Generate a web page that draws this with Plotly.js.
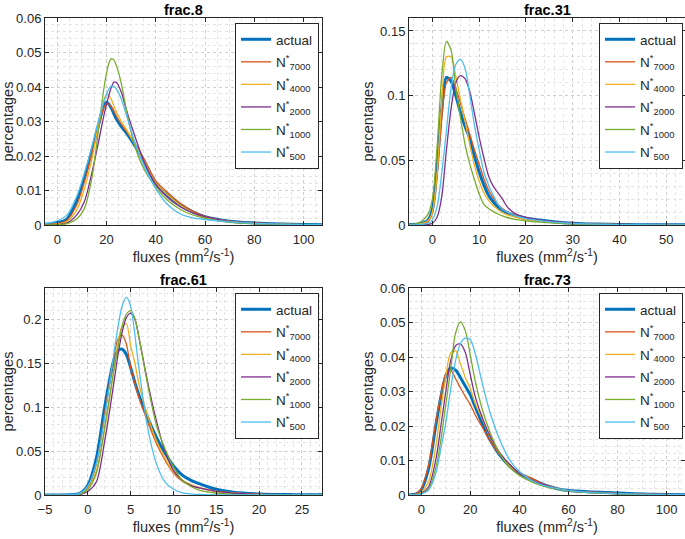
<!DOCTYPE html>
<html>
<head>
<meta charset="utf-8">
<script src="https://cdn.plot.ly/plotly-3.0.1.min.js"></script>
<style>html,body{margin:0;padding:0;background:#fff;}#chart{width:685px;height:539px;}</style>
</head>
<body>
<div id="chart"></div>
<script>
// ---------- data ----------
const seriesNames = ['actual', 'N<sup>*</sup><sub>7000</sub>', 'N<sup>*</sup><sub>4000</sub>', 'N<sup>*</sup><sub>2000</sub>', 'N<sup>*</sup><sub>1000</sub>', 'N<sup>*</sup><sub>500</sub>'];
const panelTitles = ['frac.8', 'frac.31', 'frac.61', 'frac.73'];

// frac.8
const x8 = [-5,0,4,8,11,14,17,19,20,21,22,23,24,26,28,31,35,40,45,50,55,60,70,80,95,108];
const f8_actual = [0.0002,0.0006,0.0018,0.0072,0.0139,0.0215,0.0297,0.0348,0.0356,0.0350,0.0338,0.0322,0.0307,0.0285,0.0267,0.0236,0.0188,0.0120,0.0085,0.0058,0.0038,0.0024,0.0011,0.0006,0.0002,0.0001];
const f8_n7000  = [0.0001,0.0004,0.0014,0.0060,0.0125,0.0205,0.0292,0.0342,0.0352,0.0350,0.0342,0.0330,0.0316,0.0292,0.0272,0.0242,0.0195,0.0128,0.0093,0.0063,0.0040,0.0025,0.0011,0.0006,0.0002,0.0001];
const f8_n4000  = [0.0001,0.0003,0.0010,0.0045,0.0105,0.0190,0.0300,0.0362,0.0378,0.0375,0.0362,0.0345,0.0328,0.0300,0.0278,0.0240,0.0188,0.0122,0.0086,0.0057,0.0036,0.0022,0.0010,0.0005,0.0002,0.0001];
const f8_n2000  = [0.0000,0.0001,0.0006,0.0030,0.0068,0.0150,0.0250,0.0320,0.0350,0.0378,0.0400,0.0414,0.0413,0.0385,0.0335,0.0268,0.0188,0.0118,0.0078,0.0052,0.0035,0.0024,0.0010,0.0005,0.0002,0.0001];
const f8_n1000  = [0.0000,0.0001,0.0004,0.0018,0.0048,0.0135,0.0290,0.0400,0.0440,0.0470,0.0482,0.0478,0.0462,0.0410,0.0335,0.0240,0.0165,0.0110,0.0070,0.0045,0.0029,0.0019,0.0008,0.0004,0.0002,0.0001];
const f8_n500   = [0.0004,0.0012,0.0030,0.0085,0.0150,0.0225,0.0310,0.0360,0.0380,0.0395,0.0403,0.0402,0.0394,0.0365,0.0320,0.0250,0.0175,0.0105,0.0058,0.0032,0.0021,0.0016,0.0009,0.0005,0.0002,0.0001];

// frac.31
const x31 = [-5,-3,-1,0,1,2,3,4,5,6,7,8,9,10,11,12,13,14,15,16,18,20,23,26,30,35,40,47,55];
const f31_actual = [0.0002,0.0008,0.0035,0.012,0.045,0.090,0.114,0.111,0.100,0.087,0.076,0.067,0.053,0.041,0.031,0.023,0.018,0.014,0.0115,0.0095,0.0072,0.0052,0.0038,0.0026,0.0014,0.0007,0.0004,0.0002,0.0001];
const f31_n7000  = [0.0001,0.0005,0.0025,0.009,0.038,0.082,0.110,0.114,0.106,0.094,0.082,0.070,0.058,0.047,0.036,0.027,0.021,0.016,0.0125,0.010,0.0072,0.0052,0.0036,0.0024,0.0013,0.0007,0.0004,0.0002,0.0001];
const f31_n4000  = [0.0001,0.0006,0.003,0.010,0.040,0.095,0.130,0.130,0.115,0.097,0.080,0.062,0.046,0.034,0.025,0.019,0.015,0.012,0.0095,0.0078,0.0058,0.0042,0.0028,0.0018,0.0010,0.0005,0.0003,0.0001,0.0001];
const f31_n2000  = [0.0000,0.0001,0.0004,0.0013,0.006,0.022,0.058,0.090,0.110,0.1155,0.113,0.103,0.086,0.068,0.052,0.038,0.030,0.025,0.020,0.014,0.0082,0.0058,0.0038,0.0025,0.0014,0.0007,0.0004,0.0002,0.0001];
const f31_n1000  = [0.0003,0.0015,0.008,0.020,0.060,0.115,0.142,0.135,0.106,0.083,0.062,0.047,0.035,0.024,0.016,0.0128,0.0105,0.0085,0.007,0.0058,0.0042,0.0032,0.0022,0.0015,0.0009,0.0005,0.0003,0.0001,0.0001];
const f31_n500   = [0.0001,0.0003,0.0012,0.004,0.014,0.040,0.073,0.106,0.124,0.128,0.121,0.100,0.077,0.058,0.041,0.031,0.023,0.016,0.012,0.010,0.0068,0.005,0.0033,0.0022,0.0012,0.0006,0.0003,0.0001,0.0001];

// frac.61
const x61 = [-5,-2,-1,0,1,2,3,3.5,4,4.5,5,5.5,6,7,8,9,10,11,12,13,15,17,20,24,27.4];
const f61_actual = [0,0.0003,0.0015,0.011,0.042,0.102,0.152,0.164,0.166,0.160,0.145,0.128,0.113,0.088,0.066,0.048,0.033,0.023,0.017,0.013,0.0065,0.0032,0.0012,0.0004,0.0002];
const f61_n7000  = [0,0.0002,0.001,0.009,0.035,0.095,0.155,0.177,0.182,0.172,0.145,0.127,0.110,0.083,0.059,0.040,0.025,0.016,0.011,0.0085,0.0045,0.0025,0.001,0.0003,0.0001];
const f61_n4000  = [0,0.0001,0.0008,0.007,0.028,0.076,0.140,0.172,0.192,0.195,0.170,0.150,0.125,0.090,0.062,0.042,0.026,0.017,0.012,0.008,0.004,0.002,0.0008,0.0002,0.0001];
const f61_n2000  = [0,0.0001,0.0005,0.004,0.015,0.063,0.125,0.158,0.185,0.202,0.207,0.200,0.178,0.128,0.085,0.050,0.028,0.017,0.011,0.008,0.0042,0.002,0.0008,0.0002,0.0001];
const f61_n1000  = [0,0.0001,0.0008,0.006,0.025,0.079,0.140,0.167,0.192,0.206,0.210,0.201,0.178,0.125,0.080,0.053,0.032,0.017,0.010,0.0055,0.002,0.0008,0.0003,0.0001,0];
const f61_n500   = [0,0.0003,0.0015,0.010,0.036,0.090,0.158,0.190,0.215,0.225,0.215,0.182,0.142,0.076,0.036,0.015,0.0065,0.0028,0.0012,0.0006,0.0002,0.0001,0,0,0];

// frac.73
const x73 = [-5,-2,0,3,6,8,10,12,14,16,18,20,22,25,28,32,36,40,45,50,55,60,70,80,95,108];
const f73_actual = [0,0.0003,0.0015,0.0077,0.0205,0.0285,0.0345,0.0368,0.0362,0.0340,0.0315,0.0290,0.0255,0.0205,0.0160,0.0116,0.0084,0.0063,0.0045,0.0030,0.0019,0.0013,0.0009,0.0006,0.0002,0.0001];
const f73_n7000  = [0,0.0004,0.0019,0.0087,0.0215,0.0290,0.0352,0.0362,0.0337,0.0310,0.0285,0.0262,0.0232,0.0195,0.0157,0.0117,0.0085,0.0063,0.0049,0.0031,0.0020,0.0013,0.0008,0.0005,0.0002,0.0001];
const f73_n4000  = [0,0.0001,0.0008,0.0039,0.0145,0.0250,0.0345,0.0412,0.0418,0.0380,0.0340,0.0308,0.0265,0.0218,0.0168,0.0122,0.0085,0.0064,0.0045,0.0030,0.0019,0.0012,0.0007,0.0004,0.0002,0.0001];
const f73_n2000  = [0,0.0001,0.0005,0.0024,0.0105,0.0200,0.0300,0.0390,0.0433,0.0438,0.0412,0.0348,0.0285,0.0222,0.0172,0.0122,0.0089,0.0063,0.0044,0.0030,0.0019,0.0012,0.0007,0.0004,0.0002,0.0001];
const f73_n1000  = [0,0.0001,0.0003,0.0017,0.0080,0.0160,0.0262,0.0365,0.0470,0.0502,0.0475,0.0405,0.0330,0.0245,0.0182,0.0120,0.0080,0.0057,0.0038,0.0025,0.0017,0.0011,0.0006,0.0003,0.0001,0.0001];
const f73_n500   = [0,0.0001,0.0003,0.0014,0.0065,0.0135,0.0210,0.0308,0.0390,0.0440,0.0455,0.0450,0.0410,0.0320,0.0240,0.0160,0.0102,0.0068,0.0042,0.0027,0.0019,0.0013,0.0007,0.0004,0.0002,0.0001];

// ---------- styling ----------
const colors = ['#0072BD', '#D95319', '#EDB120', '#7E2F8E', '#77AC30', '#4DBEEE'];
const widths = [3, 1.3, 1.3, 1.3, 1.3, 1.3];
const FONT = 'Liberation Sans, Arial, Helvetica, sans-serif';
const TXT = '#262626';

const panels = [
  {x: x8,  ys: [f8_actual, f8_n7000, f8_n4000, f8_n2000, f8_n1000, f8_n500]},
  {x: x31, ys: [f31_actual, f31_n7000, f31_n4000, f31_n2000, f31_n1000, f31_n500]},
  {x: x61, ys: [f61_actual, f61_n7000, f61_n4000, f61_n2000, f61_n1000, f61_n500]},
  {x: x73, ys: [f73_actual, f73_n7000, f73_n4000, f73_n2000, f73_n1000, f73_n500]}
];

const W = 685, H = 539;
const box = [ // pixel boxes [left, right, top, bottom]
  [45, 322, 18, 225],
  [409, 685, 18, 225],
  [45, 322, 288, 495],
  [409, 685, 288, 495]
];
const xr = [[-5, 107.5], [-5, 54], [-5, 27.35], [-5, 107.5]];
const yr = [[0, 0.06], [0, 0.16], [0, 0.2357], [0, 0.06]];
const xd = [[20, 5], [10, 2], [5, 1], [20, 5]];
const yd = [[0.01, 0.002], [0.05, 0.01], [0.05, 0.01], [0.01, 0.002]];
const legRight = [319, 683, 319, 683];
const legTop = [23, 23, 293, 293];

const traces = [];
const layout = {
  width: W, height: H,
  margin: {l: 0, r: 0, t: 0, b: 0},
  paper_bgcolor: '#ffffff', plot_bgcolor: '#ffffff',
  font: {family: FONT, color: TXT, size: 13},
  annotations: []
};

panels.forEach((p, i) => {
  const n = i === 0 ? '' : String(i + 1);
  const legName = 'legend' + n;
  p.ys.forEach((y, k) => {
    traces.push({
      type: 'scatter', mode: 'lines',
      x: p.x, y: y,
      name: seriesNames[k],
      xaxis: 'x' + n, yaxis: 'y' + n,
      legend: legName,
      legendgroup: 'g' + i + '_' + k,
      line: {color: colors[k], width: widths[k], shape: 'spline', smoothing: 0.8}
    });
  });
  const b = box[i];
  const axBase = {
    showline: true, linecolor: TXT, linewidth: 1, mirror: 'ticks',
    ticks: 'inside', ticklen: 4, tickcolor: TXT, tickwidth: 1,
    showgrid: true, gridcolor: '#cfcfcf', griddash: 'dot', gridwidth: 1,
    zeroline: false, tickfont: {size: 13, color: TXT, family: FONT}
  };
  layout['xaxis' + n] = Object.assign({}, axBase, {
    domain: [b[0] / W, b[1] / W], anchor: 'y' + n,
    range: xr[i], tick0: 0, dtick: xd[i][0],
    ticklabelstandoff: 2,
    minor: {dtick: xd[i][1], showgrid: true, gridcolor: '#e4e4e4', griddash: 'dot', ticks: ''},
    title: {text: 'fluxes (mm<sup>2</sup>/s<sup>-1</sup>)', font: {size: 14.5, color: TXT, family: FONT}, standoff: 5}
  });
  layout['yaxis' + n] = Object.assign({}, axBase, {
    domain: [1 - b[3] / H, 1 - b[2] / H], anchor: 'x' + n,
    range: yr[i], tick0: 0, dtick: yd[i][0],
    minor: {dtick: yd[i][1], showgrid: true, gridcolor: '#e4e4e4', griddash: 'dot', ticks: ''},
    title: {text: 'percentages', font: {size: 14.5, color: TXT, family: FONT}, standoff: 3}
  });
  layout[legName] = {
    x: legRight[i] / W, xanchor: 'right',
    y: 1 - legTop[i] / H, yanchor: 'top',
    bgcolor: '#ffffff', bordercolor: TXT, borderwidth: 1,
    font: {size: 13.5, color: TXT, family: FONT},
    itemwidth: 30, tracegroupgap: 2
  };
  layout.annotations.push({
    text: '<b>' + panelTitles[i] + '</b>',
    xref: 'paper', yref: 'paper',
    x: (b[0] + b[1]) / 2 / W, y: 1 - (b[2] - 8) / H,
    xanchor: 'center', yanchor: 'middle', showarrow: false,
    font: {size: 14.5, color: '#000000', family: FONT}
  });
});

Plotly.newPlot('chart', traces, layout, {displayModeBar: false, staticPlot: true});
</script>
</body>
</html>
